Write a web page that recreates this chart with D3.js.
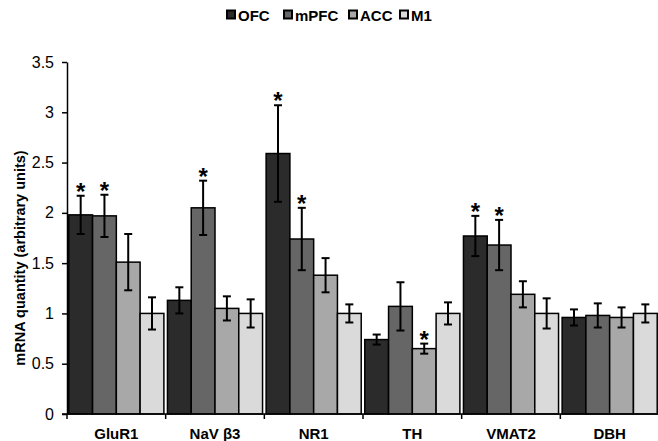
<!DOCTYPE html>
<html>
<head>
<meta charset="utf-8">
<script src="https://cdn.jsdelivr.net/npm/d3@7"></script>
<style>
  body { margin: 0; background: #fff; }
  text { font-family: Arial, "Liberation Sans", sans-serif; }
</style>
</head>
<body>
<svg id="chart" width="658" height="441"></svg>
<script>
// genes on the x axis, regions as the series
const genes = ["GluR1", "NaV \u03b23", "NR1", "TH", "VMAT2", "DBH"];
const regions = ["OFC", "mPFC", "ACC", "M1"];
const colors = ["#2b2b2b", "#666666", "#a8a8a8", "#dadada"];

// mean values per region (one value per gene)
const ofc  = [1.98, 1.13, 2.59, 0.74, 1.77, 0.96];
const mpfc = [1.97, 2.05, 1.74, 1.07, 1.68, 0.98];
const acc  = [1.51, 1.05, 1.38, 0.65, 1.19, 0.96];
const m1   = [1.00, 1.00, 1.00, 1.00, 1.00, 1.00];

// error bar half-lengths
const ofcErr  = [0.19, 0.13, 0.48, 0.05, 0.20, 0.08];
const mpfcErr = [0.21, 0.27, 0.31, 0.24, 0.25, 0.12];
const accErr  = [0.28, 0.12, 0.17, 0.05, 0.13, 0.10];
const m1Err   = [0.16, 0.14, 0.09, 0.11, 0.15, 0.09];

// significance markers
const ofcSig  = [1, 0, 1, 0, 1, 0];
const mpfcSig = [1, 1, 1, 0, 1, 0];
const accSig  = [0, 0, 0, 1, 0, 0];
const m1Sig   = [0, 0, 0, 0, 0, 0];

const yTicks = [0, 0.5, 1, 1.5, 2, 2.5, 3, 3.5];

const values = [ofc, mpfc, acc, m1];
const errs = [ofcErr, mpfcErr, accErr, m1Err];
const sigs = [ofcSig, mpfcSig, accSig, m1Sig];

const margin = { top: 62, right: -1, bottom: 27, left: 67 };
const width = 658, height = 441;

const svg = d3.select("#chart");

const x0 = d3.scaleBand()
  .domain(genes)
  .range([margin.left, width - margin.right])
  .paddingInner(0)
  .paddingOuter(0);

const x1 = d3.scaleBand()
  .domain(regions)
  .range([0, x0.bandwidth()])
  .paddingInner(0)
  .paddingOuter(0.075);

const y = d3.scaleLinear()
  .domain([0, 3.5])
  .range([height - margin.bottom, margin.top]);

// rows for drawing
const rows = [];
genes.forEach((g, gi) => {
  regions.forEach((r, ri) => {
    rows.push({ gene: g, region: r, ri: ri, v: values[ri][gi], e: errs[ri][gi], s: sigs[ri][gi] });
  });
});

// bars
svg.append("g")
  .selectAll("rect")
  .data(rows)
  .join("rect")
  .attr("x", d => x0(d.gene) + x1(d.region))
  .attr("y", d => y(d.v))
  .attr("width", x1.bandwidth())
  .attr("height", d => y(0) - y(d.v))
  .attr("fill", d => colors[d.ri])
  .attr("stroke", "#000")
  .attr("stroke-width", 1.5);

// error bars
const eb = svg.append("g").attr("stroke", "#000").attr("stroke-width", 2);
rows.forEach(d => {
  const cx = x0(d.gene) + x1(d.region) + x1.bandwidth() / 2;
  eb.append("line").attr("x1", cx).attr("x2", cx).attr("y1", y(d.v - d.e)).attr("y2", y(d.v + d.e));
  eb.append("line").attr("x1", cx - 4).attr("x2", cx + 4).attr("y1", y(d.v + d.e)).attr("y2", y(d.v + d.e));
  eb.append("line").attr("x1", cx - 4).attr("x2", cx + 4).attr("y1", y(d.v - d.e)).attr("y2", y(d.v - d.e));
});

// asterisks
svg.append("g")
  .selectAll("text")
  .data(rows.filter(d => d.s))
  .join("text")
  .attr("x", d => x0(d.gene) + x1(d.region) + x1.bandwidth() / 2)
  .attr("y", d => y(d.v + d.e) + 4)
  .attr("text-anchor", "middle")
  .attr("font-size", 24)
  .attr("font-weight", "bold")
  .text("*");

// y axis
const yAxis = svg.append("g")
  .attr("transform", `translate(${margin.left},0)`)
  .call(d3.axisLeft(y).tickValues(yTicks).tickFormat(d3.format("")).tickSize(5).tickSizeOuter(0).tickPadding(8));
yAxis.select(".domain").attr("stroke", "#000").attr("stroke-width", 1.5);
yAxis.selectAll(".tick line").attr("stroke", "#000").attr("stroke-width", 1.5);
yAxis.selectAll(".tick text").attr("font-size", 16).attr("fill", "#000")
  .style("font-family", "Arial, 'Liberation Sans', sans-serif");

// x axis line and ticks at group boundaries
const xg = svg.append("g").attr("stroke", "#000").attr("stroke-width", 1.5);
xg.append("line").attr("x1", margin.left - 5).attr("x2", width).attr("y1", y(0)).attr("y2", y(0));
genes.forEach(g => {
  const bx = x0(g);
  xg.append("line").attr("x1", bx).attr("x2", bx).attr("y1", y(0)).attr("y2", y(0) + 5);
});

// x labels
svg.append("g")
  .selectAll("text")
  .data(genes)
  .join("text")
  .attr("x", d => x0(d) + x0.bandwidth() / 2)
  .attr("y", height - 2)
  .attr("text-anchor", "middle")
  .attr("font-size", 15)
  .attr("font-weight", "bold")
  .text(d => d);

// y title
svg.append("text")
  .attr("transform", `translate(25,${(margin.top + height - margin.bottom) / 2 + 20}) rotate(-90)`)
  .attr("text-anchor", "middle")
  .attr("font-size", 14.5)
  .attr("font-weight", "bold")
  .text("mRNA quantity (arbitrary units)");

// legend
const legendX = [225, 282, 347, 398];
const lg = svg.append("g");
regions.forEach((r, i) => {
  lg.append("rect")
    .attr("x", legendX[i] + 2).attr("y", 10.5)
    .attr("width", 8).attr("height", 8)
    .attr("fill", colors[i]).attr("stroke", "#000").attr("stroke-width", 2);
  lg.append("text")
    .attr("x", legendX[i] + 13).attr("y", 20.5)
    .attr("font-size", 15)
    .attr("font-weight", "bold")
    .text(r);
});
</script>
</body>
</html>
